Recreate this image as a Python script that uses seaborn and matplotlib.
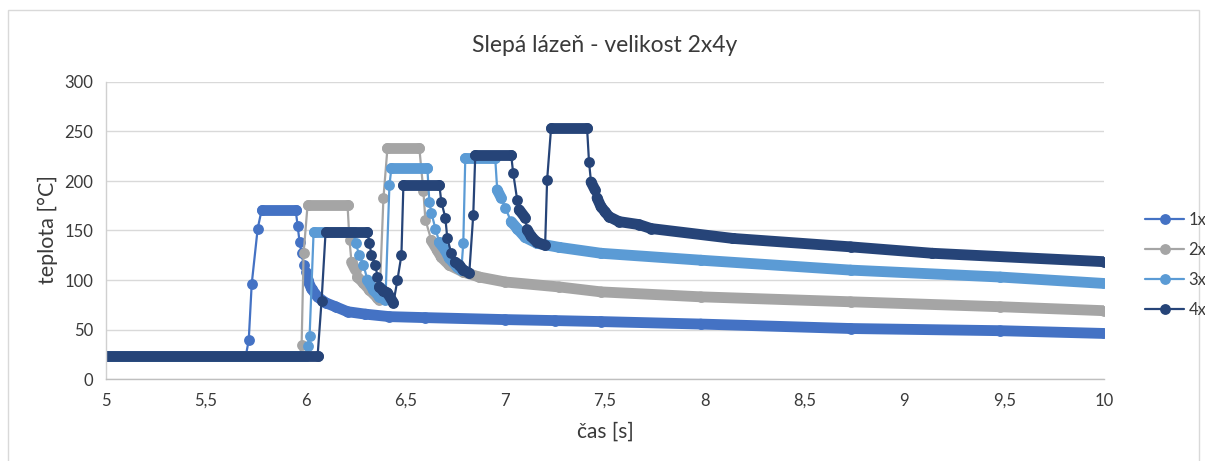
import numpy as np
import pandas as pd
import matplotlib
matplotlib.use("Agg")
import matplotlib.pyplot as plt
import seaborn as sns
from matplotlib.collections import LineCollection
from matplotlib.lines import Line2D

# ---------------- data ----------------
series_names = ["1x", "2x", "3x", "4x"]

t_1x = [5.00, 5.70, 5.715, 5.73, 5.76, 5.78, 5.95, 5.96, 5.97, 5.98, 5.99, 6.00, 6.01,
        6.03, 6.06, 6.10, 6.15, 6.21, 6.30, 6.42, 6.60, 7.00, 7.25, 7.48, 7.98, 8.73,
        9.48, 10.00]
temp_1x = [23, 23, 39, 96, 152, 171, 171, 155, 138, 127, 115, 108, 100,
           91, 83, 77, 73, 68, 65.5, 63, 62, 60, 59, 58, 55.5, 51, 48.8, 46]

t_2x = [5.00, 5.97, 5.98, 5.99, 6.01, 6.21, 6.22, 6.23, 6.25, 6.26, 6.29, 6.32, 6.36,
        6.37, 6.39, 6.41, 6.57, 6.59, 6.60, 6.63, 6.66, 6.68, 6.72, 6.79, 6.87, 7.00,
        7.27, 7.48, 7.98, 8.73, 9.48, 10.00]
temp_2x = [23, 23, 34, 127, 176, 176, 140, 118, 110, 103, 97, 90, 82,
           80, 183, 233, 233, 190, 161, 140, 130, 123, 115, 108, 103, 98,
           93, 88, 83, 78, 73, 69]

t_3x = [5.00, 6.00, 6.01, 6.02, 6.04, 6.24, 6.25, 6.27, 6.29, 6.31, 6.34, 6.37, 6.40,
        6.42, 6.43, 6.61, 6.62, 6.63, 6.65, 6.67, 6.70, 6.72, 6.76, 6.78, 6.79, 6.80,
        6.95, 6.96, 6.98, 7.00, 7.03, 7.06, 7.10, 7.16, 7.27, 7.48, 7.98, 8.73, 9.48, 10.00]
temp_3x = [23, 23, 33, 43, 148, 148, 137, 125, 115, 100, 90, 83, 80,
           196, 213, 213, 179, 168, 152, 138, 130, 122, 113, 110, 137, 223,
           223, 191, 183, 173, 159, 152, 143, 137, 133, 127, 120, 110, 103, 96.5]

t_4x = [5.00, 6.06, 6.08, 6.10, 6.31, 6.32, 6.33, 6.35, 6.36, 6.37, 6.39, 6.41, 6.44,
        6.46, 6.48, 6.49, 6.67, 6.68, 6.70, 6.71, 6.73, 6.75, 6.77, 6.79, 6.82, 6.84,
        6.85, 7.03, 7.04, 7.06, 7.07, 7.10, 7.11, 7.13, 7.16, 7.20, 7.21, 7.23, 7.41,
        7.42, 7.43, 7.45, 7.46, 7.48, 7.50, 7.52, 7.57, 7.67, 7.73, 8.14, 8.73, 9.14,
        10.00]
temp_4x = [23, 23, 79, 148, 148, 137, 125, 115, 103, 93, 89, 87, 77,
           100, 125, 196, 196, 179, 163, 142, 127, 118, 115, 110, 107, 166,
           226, 226, 208, 181, 171, 163, 151, 144, 138, 135, 201, 254, 254,
           219, 199, 191, 183, 174, 169, 164, 159, 156, 152, 142, 133.5, 127,
           118.5]

x_ticks = [5, 5.5, 6, 6.5, 7, 7.5, 8, 8.5, 9, 9.5, 10]
x_tick_labels = ["5", "5,5", "6", "6,5", "7", "7,5", "8", "8,5", "9", "9,5", "10"]
y_ticks = [0, 50, 100, 150, 200, 250, 300]

title_text = "Slepá lázeň - velikost 2x4y"
x_label = "čas [s]"
y_label = "teplota [°C]"

# ---------------- styling ----------------
sns.set_theme(style="white")
plt.rcParams['font.family'] = ['Lato', 'DejaVu Sans']

colors = {"1x": "#4472C4", "2x": "#A5A5A5", "3x": "#5B9BD5", "4x": "#264478"}
MS = 7.8        # marker diameter (pt)
LW = 1.6
TXT = "#3a3a3a"

W, H = 1205, 461
fig = plt.figure(figsize=(W / 100, H / 100), dpi=100)
ax = fig.add_axes([106 / W, 1 - 379 / H, (1104 - 106) / W, (379 - 82) / H])

all_series = [("1x", t_1x, temp_1x), ("2x", t_2x, temp_2x),
              ("3x", t_3x, temp_3x), ("4x", t_4x, temp_4x)]

for name, t, v in all_series:
    df = pd.DataFrame({"t": t, "T": v})
    sns.lineplot(data=df, x="t", y="T", ax=ax, color=colors[name], marker="o",
                 markersize=MS, markeredgewidth=0, linewidth=LW, sort=False,
                 estimator=None, legend=False, zorder=2)
    # dense sampling in the original forms a continuous band of markers where the
    # curve changes slowly -> draw those stretches as a thick rounded band
    ta = np.asarray(t, float)
    va = np.asarray(v, float)
    slope = np.abs(np.diff(va)) / np.diff(ta)
    segs = [[(ta[i], va[i]), (ta[i + 1], va[i + 1])] for i in np.where(slope < 450)[0]]
    if segs:
        lc = LineCollection(segs, colors=colors[name], linewidths=MS,
                            capstyle="round", joinstyle="round", zorder=2)
        ax.add_collection(lc)

ax.set_xlim(5, 10)
ax.set_ylim(0, 300)
ax.set_xticks(x_ticks)
ax.set_xticklabels(x_tick_labels)
ax.set_yticks(y_ticks)
ax.grid(axis="y", color="#d9d9d9", linewidth=1.0)
ax.grid(axis="x", visible=False)
ax.set_axisbelow(True)
for s in ["top", "right"]:
    ax.spines[s].set_visible(False)
ax.spines["left"].set_color("#d0d0d0")
ax.spines["bottom"].set_color("#bfbfbf")
ax.spines["left"].set_linewidth(1.0)
ax.spines["bottom"].set_linewidth(1.0)
ax.tick_params(axis="both", length=0, labelsize=12, colors=TXT)
ax.tick_params(axis="y", pad=9)
ax.tick_params(axis="x", pad=10)
ax.set_xlabel("")
ax.set_ylabel("")

fig.text(605 / W, 1 - 45 / H, title_text, ha="center", va="center",
         fontsize=16.5, color=TXT)
fig.text(605 / W, 1 - 432 / H, x_label, ha="center", va="center",
         fontsize=15, color=TXT)
fig.text(48 / W, 1 - 230 / H, y_label, ha="center", va="center",
         fontsize=15.5, color=TXT, rotation=90)

handles = [Line2D([0], [0], color=colors[n], marker="o", markersize=MS,
                  markeredgewidth=0, linewidth=LW) for n in series_names]
fig.legend(handles, series_names, loc="center left",
           bbox_to_anchor=(1137 / W, 1 - 265 / H), frameon=False,
           fontsize=12, handlelength=2.3, handletextpad=0.3,
           labelspacing=0.85, borderpad=0, labelcolor=TXT)

# outer chart frame
fig.add_artist(plt.Rectangle((8 / W, -0.05), (1199 - 8) / W, 1.05 - 10 / H,
                             transform=fig.transFigure, fill=False,
                             edgecolor="#d9d9d9", linewidth=1.0))

fig.savefig("out.png", dpi=100)
